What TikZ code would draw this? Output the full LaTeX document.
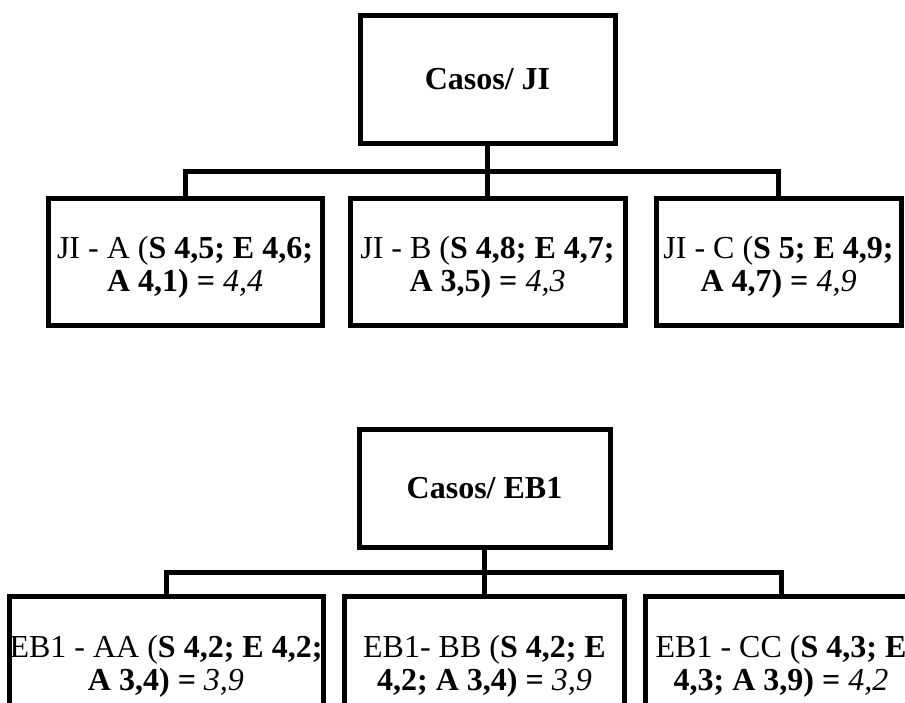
\documentclass[tikz,border=0pt]{standalone}
\usepackage{fontspec}
\setmainfont{Liberation Serif}
% strut that lowers the two-line labels a little inside their boxes
\newcommand{\lowstrut}{\rule{0pt}{34pt}}
\begin{document}
\begin{tikzpicture}[x=1pt,y=-1pt,
  box/.style={draw=black,line width=5pt,rectangle,inner sep=0pt,
    minimum height=127pt,align=center,fill=white,
    font=\fontsize{32}{33}\selectfont},
  link/.style={draw=black,line width=5pt}]
\useasboundingbox (0,0) rectangle (905,702);
\clip (0,0) rectangle (905,702);

% --- first tree: Casos/ JI ---
\node[box,minimum width=255pt,minimum height=128pt] (ji) at (487.5,79) {\textbf{Casos/ JI}};
\node[box,minimum width=274pt] (jia) at (185,261.5)
  {\lowstrut JI - A (\textbf{S 4,5; E 4,6;}\\\textbf{A 4,1) =} \textit{4,4}};
\node[box,minimum width=275pt] (jib) at (487.5,261.5)
  {\lowstrut JI - B (\textbf{S 4,8; E 4,7;}\\\textbf{A 3,5) =} \textit{4,3}};
\node[box,minimum width=245pt] (jic) at (778.5,261.5)
  {\lowstrut JI - C (\textbf{S 5; E 4,9;}\\\textbf{A 4,7) =} \textit{4,9}};
\coordinate (jbar) at (487.5,171);
\draw[link] (jia.north) |- (jbar) -| (jic.north);
\draw[link] (ji.south) -- (jib.north);

% --- second tree: Casos/ EB1 ---
\node[box,minimum width=251pt,minimum height=118pt] (eb) at (484.5,488) {\textbf{Casos/ EB1}};
\node[box,minimum width=314pt] (eba) at (166,660)
  {\lowstrut EB1 - AA (\textbf{S 4,2; E 4,2;}\\\textbf{A 3,4) =} \textit{3,9}};
\node[box,minimum width=280pt] (ebb) at (484.5,660)
  {\lowstrut EB1- BB (\textbf{S 4,2; E}\\\textbf{4,2; A 3,4) =} \textit{3,9}};
\node[box,minimum width=272pt] (ebc) at (781,660)
  {\lowstrut EB1 - CC (\textbf{S 4,3; E}\\\textbf{4,3; A 3,9) =} \textit{4,2}};
\coordinate (ebar) at (484.5,572);
\draw[link] (eba.north) |- (ebar) -| (ebc.north);
\draw[link] (eb.south) -- (ebb.north);
\end{tikzpicture}
\end{document}
